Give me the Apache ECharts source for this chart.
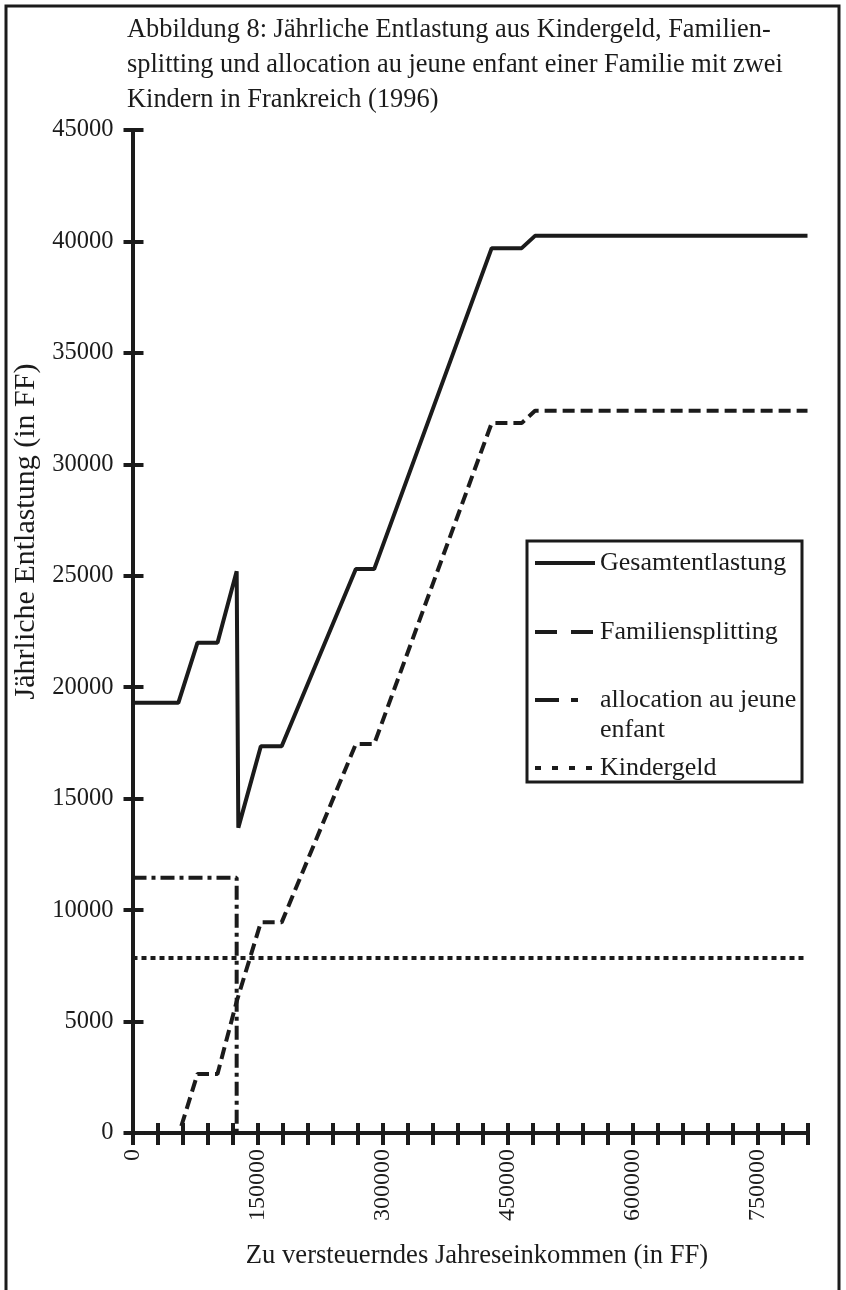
<!DOCTYPE html>
<html>
<head>
<meta charset="utf-8">
<script src="https://cdn.jsdelivr.net/npm/echarts@6/dist/echarts.min.js"></script>
<style>
  html, body { margin: 0; padding: 0; background: #fff; }
  #chart { width: 846px; height: 1290px; }
</style>
</head>
<body>
<div id="chart"></div>
<script>
// Werte (x: Jahreseinkommen in FF, y: Entlastung in FF)
const gesamtentlastung = [
    [0, 19300], [55000, 19300], [78000, 22000], [102000, 22000],
    [125000, 25200], [127000, 13700], [154000, 17350], [179000, 17350],
    [268000, 25300], [290000, 25300], [431000, 39700], [467000, 39700],
    [483000, 40250], [810000, 40250]
];
const familiensplitting = [
    [0, 0], [56000, 0], [78000, 2650], [102000, 2650], [125000, 5900],
    [154000, 9450], [179000, 9450], [268000, 17450], [290000, 17450],
    [431000, 31850], [467000, 31850], [483000, 32400], [810000, 32400]
];
const allocationJeuneEnfant = [[0, 11450], [125000, 11450], [125000, 0]];
const kindergeld = [[0, 7850], [810000, 7850]];

const xTickLabels = [0, 150000, 300000, 450000, 600000, 750000];
const seriesNames = ["Gesamtentlastung", "Familiensplitting", "allocation au jeune enfant", "Kindergeld"];

const FONT = "Liberation Serif";
const INK = "#1b1b1b";

const chart = echarts.init(document.getElementById("chart"));

function lineSeries(name, data, type) {
    return {
        name: name,
        type: "line",
        data: data,
        symbol: "none",
        smooth: false,
        z: 3,
        lineStyle: { color: INK, width: 4, type: type, cap: "butt" },
        itemStyle: { color: INK }
    };
}

// eine Legende pro Eintrag, damit die Abstände wie im Original sind
function legendItem(name, top, dash) {
    return {
        data: [name],
        orient: "vertical",
        left: 533,
        top: top,
        padding: 0,
        itemWidth: 60,
        itemHeight: 14,
        selectedMode: false,
        itemStyle: { opacity: 0 },
        lineStyle: { width: 4, type: dash, color: INK },
        formatter: function (n) {
            // Leerzeile vorne, damit die erste Textzeile auf Höhe der Linie steht
            return n === "allocation au jeune enfant" ? " \nallocation au jeune\nenfant" : n;
        },
        textStyle: { fontFamily: FONT, fontSize: 26, color: INK, lineHeight: 30 }
    };
}

const valueAxisBase = {
    type: "value",
    splitLine: { show: false },
    axisLine: { show: true, onZero: false, lineStyle: { color: INK, width: 4 } }
};

chart.setOption({
    backgroundColor: "#fff",
    animation: false,
    title: {
        text: "Abbildung 8: Jährliche Entlastung aus Kindergeld, Familien-\nsplitting und allocation au jeune enfant einer Familie mit zwei\nKindern in Frankreich (1996)",
        left: 127,
        top: 13,
        padding: 0,
        textStyle: { fontFamily: FONT, fontSize: 26.4, fontWeight: "normal", color: INK, lineHeight: 35 }
    },
    grid: { left: 132.5, right: 38.5, top: 130, bottom: 157, containLabel: false },
    legend: [
        legendItem(seriesNames[0], 548, "solid"),
        legendItem(seriesNames[1], 617, [22, 14]),
        legendItem(seriesNames[2], 655, [24, 12, 7, 30]),
        legendItem(seriesNames[3], 753, [6, 11])
    ],
    xAxis: [
        Object.assign({}, valueAxisBase, {
            min: 0, max: 810000, interval: 30000,
            position: "bottom",
            name: "Zu versteuerndes Jahreseinkommen (in FF)",
            nameLocation: "middle",
            nameGap: 110,
            nameTextStyle: { fontFamily: FONT, fontSize: 26.6, color: INK, padding: [0, 0, 0, 14] },
            axisTick: { show: true, inside: false, length: 12, lineStyle: { color: INK, width: 4 } },
            axisLabel: {
                rotate: 90,
                margin: 16,
                fontFamily: FONT, fontSize: 24, color: INK,
                formatter: function (v) { return xTickLabels.indexOf(v) >= 0 ? String(v) : ""; }
            }
        }),
        Object.assign({}, valueAxisBase, {
            min: 0, max: 810000, interval: 30000,
            position: "bottom",
            axisLine: { show: false },
            axisTick: { show: true, inside: true, length: 10, lineStyle: { color: INK, width: 4 } },
            axisLabel: { show: false }
        })
    ],
    yAxis: [
        Object.assign({}, valueAxisBase, {
            min: 0, max: 45000, interval: 5000,
            position: "left",
            name: "Jährliche Entlastung (in FF)",
            nameLocation: "middle",
            nameRotate: 90,
            nameGap: 88,
            nameTextStyle: { fontFamily: FONT, fontSize: 30, color: INK, padding: [0, 0, 0, 200] },
            axisTick: { show: true, inside: false, length: 9, lineStyle: { color: INK, width: 4 } },
            axisLabel: {
                margin: 19, fontFamily: FONT, fontSize: 24.5, color: INK,
                formatter: function (v) { return String(v); }
            }
        }),
        Object.assign({}, valueAxisBase, {
            min: 0, max: 45000, interval: 5000,
            position: "left",
            axisLine: { show: false },
            axisTick: { show: true, inside: true, length: 11, lineStyle: { color: INK, width: 4 } },
            axisLabel: { show: false }
        })
    ],
    graphic: [
        {
            type: "rect",
            shape: { x: 6, y: 6, width: 833, height: 1320 },
            style: { fill: null, stroke: INK, lineWidth: 3 },
            silent: true
        },
        {
            type: "rect",
            shape: { x: 527, y: 541, width: 275, height: 241 },
            style: { fill: null, stroke: INK, lineWidth: 3 },
            silent: true
        }
    ],
    series: [
        lineSeries(seriesNames[0], gesamtentlastung, "solid"),
        lineSeries(seriesNames[1], familiensplitting, [12, 6]),
        lineSeries(seriesNames[2], allocationJeuneEnfant, [14, 5, 4, 5]),
        lineSeries(seriesNames[3], kindergeld, [5, 4])
    ]
});
</script>
</body>
</html>
